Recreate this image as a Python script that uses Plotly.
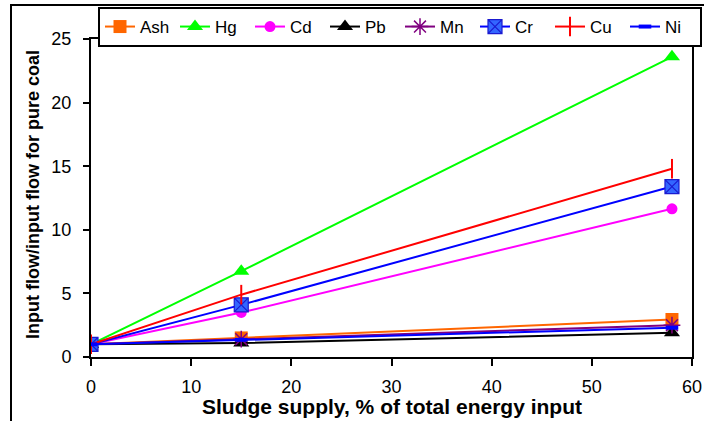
import plotly.graph_objects as go

# ---- data ----
sludge_pct = [0, 15, 58]
ash = [1.0, 1.5, 2.95]
hg = [1.0, 6.75, 23.6]
cd = [1.0, 3.5, 11.65]
pb = [1.0, 1.1, 1.9]
mn = [1.0, 1.4, 2.5]
cr = [1.0, 4.1, 13.4]
cu = [1.0, 4.9, 14.8]
ni = [1.0, 1.35, 2.3]

series_names = ["Ash", "Hg", "Cd", "Pb", "Mn", "Cr", "Cu", "Ni"]
series_values = [ash, hg, cd, pb, mn, cr, cu, ni]

styles = {
    "Ash": dict(line="#FF6600", symbol="square", mcolor="#FF6600", size=13, mline="#FF6600", mlw=0),
    "Hg": dict(line="#00FF00", symbol="triangle-up", mcolor="#00FF00", size=14, mline="#00FF00", mlw=0),
    "Cd": dict(line="#FF00FF", symbol="circle", mcolor="#FF00FF", size=11, mline="#FF00FF", mlw=0),
    "Pb": dict(line="#000000", symbol="triangle-up", mcolor="#000000", size=14, mline="#000000", mlw=0),
    "Mn": dict(line="#800080", symbol="asterisk", mcolor="#800080", size=14, mline="#800080", mlw=1.5),
    "Cr": dict(line="#0000FF", symbol="square-x", mcolor="#3366FF", size=14, mline="#1A1AD0", mlw=1.2),
    "Cu": dict(line="#FF0000", symbol="line-ns", mcolor="#FF0000", size=14, mline="#FF0000", mlw=2),
    "Ni": dict(line="#0000FF", symbol="line-ew", mcolor="#0000FF", size=9, mline="#0000FF", mlw=4),
}

fig = go.Figure()
for name, vals in zip(series_names, series_values):
    s = styles[name]
    fig.add_trace(go.Scatter(
        x=sludge_pct, y=vals, name=name, mode="lines+markers",
        line=dict(color=s["line"], width=2),
        marker=dict(symbol=s["symbol"], color=s["mcolor"], size=s["size"],
                    line=dict(color=s["mline"], width=s["mlw"])),
    ))

L, R, T, B = 91, 12, 39, 64
W, H = 704, 421
pw, ph = W - L - R, H - T - B

def px_x(px):
    return (px - L) / pw

def px_y(py):
    return (H - B - py) / ph

fig.update_layout(
    width=W, height=H,
    margin=dict(l=L, r=R, t=T, b=B, autoexpand=False),
    paper_bgcolor="white", plot_bgcolor="white",
    font=dict(family="Liberation Sans, Arial, sans-serif", size=18, color="black"),
    showlegend=True,
    legend=dict(
        orientation="h", xref="container", yref="container",
        x=98 / W, y=1 - 7 / H, xanchor="left", yanchor="top",
        bordercolor="black", borderwidth=2, bgcolor="white",
        font=dict(size=17), entrywidth=30, entrywidthmode="pixels",
        traceorder="normal",
    ),
    xaxis=dict(
        range=[0, 60], tickvals=[0, 10, 20, 30, 40, 50, 60],
        showgrid=False, zeroline=False, automargin=False,
        showline=True, linecolor="black", linewidth=2, mirror=True,
        ticks="outside", ticklen=7, tickwidth=2, tickcolor="black",
        tickfont=dict(size=18), ticklabelstandoff=5,
    ),
    yaxis=dict(
        range=[0, 25], tickvals=[0, 5, 10, 15, 20, 25],
        showgrid=False, zeroline=False, automargin=False,
        showline=True, linecolor="black", linewidth=2, mirror=True,
        ticks="outside", ticklen=6, tickwidth=2, tickcolor="black",
        tickfont=dict(size=18), ticklabelstandoff=8,
    ),
    shapes=[dict(type="rect", xref="paper", yref="paper",
                 x0=px_x(11), x1=px_x(712), y0=px_y(440), y1=px_y(5),
                 line=dict(color="black", width=2), layer="below")],
    annotations=[
        dict(text="<b>Sludge supply, % of total energy input</b>", xref="paper", yref="paper",
             x=px_x(392), y=px_y(406), xanchor="center", yanchor="middle",
             showarrow=False, font=dict(size=21)),
        dict(text="<b>Input flow/input flow for pure coal</b>", xref="paper", yref="paper",
             x=px_x(33), y=px_y(195), xanchor="center", yanchor="middle", textangle=-90,
             showarrow=False, font=dict(size=18)),
    ],
)

fig.write_html("out.html", config={"displayModeBar": False},
               post_script="document.body.style.margin='0';document.body.style.overflow='hidden';")
